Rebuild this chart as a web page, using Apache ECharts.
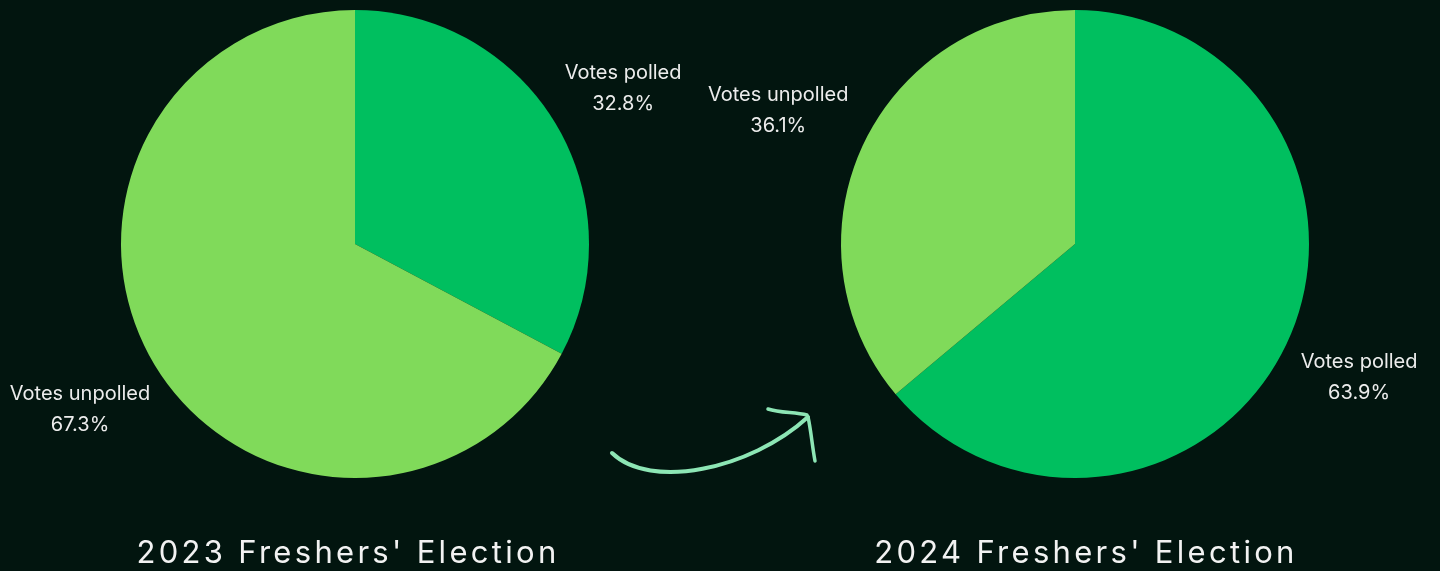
<!DOCTYPE html>
<html>
<head>
<meta charset="utf-8">
<script src="https://cdn.jsdelivr.net/npm/echarts@6/dist/echarts.min.js"></script>
<style>
  html, body { margin: 0; padding: 0; background: #02150f; overflow: hidden; }
  #wrap { position: relative; width: 1440px; height: 571px; }
  #chart { position: absolute; left: 0; top: 0; width: 1440px; height: 571px; }
  .ttl { position: absolute; top: 533px; font-family: Inter, sans-serif; font-size: 31px;
         letter-spacing: 3.3px; color: #f2f2f2; white-space: nowrap; transform: translateX(-50%); }
</style>
</head>
<body>
<div id="wrap">
  <div id="chart"></div>
  <div class="ttl" id="t1" style="left:348px"></div>
  <div class="ttl" id="t2" style="left:1086px"></div>
</div>
<script>
const categories = ['Votes polled', 'Votes unpolled'];
const values2023 = [32.8, 67.3];
const values2024 = [63.9, 36.1];
const titles = ["2023 Freshers' Election", "2024 Freshers' Election"];
const colors = ['#00bf5f', '#80da5a'];

document.getElementById('t1').textContent = titles[0];
document.getElementById('t2').textContent = titles[1];

function buildData(vals, lens) {
  return categories.map((name, i) => ({
    name: name,
    value: vals[i],
    itemStyle: { color: colors[i] },
    labelLine: { show: false, length: lens[i], length2: 0 }
  }));
}

function pieSeries(vals, center, lens) {
  return {
    type: 'pie',
    center: center,
    radius: 234,
    startAngle: 90,
    clockwise: true,
    avoidLabelOverlap: false,
    silent: true,
    data: buildData(vals, lens),
    label: {
      show: true,
      position: 'outside',
      formatter: '{b}\n{c}%',
      color: '#ececec',
      fontFamily: 'Inter',
      fontSize: 20,
      lineHeight: 31
    },
    labelLine: { show: false },
    labelLayout: function () {
      return { align: 'center', dy: 3 };
    }
  };
}

const chart = echarts.init(document.getElementById('chart'), null, { renderer: 'canvas' });
chart.setOption({
  backgroundColor: '#02150f',
  animation: false,
  series: [
    pieSeries(values2023, [355, 244], [73, 81]),
    pieSeries(values2024, [1075, 244], [74, 88])
  ],
  graphic: [
    {
      type: 'bezierCurve',
      shape: { x1: 612, y1: 453, cpx1: 650, cpy1: 490, cpx2: 750, cpy2: 470, x2: 808, y2: 417 },
      style: { stroke: '#8de6b5', lineWidth: 4, fill: null, lineCap: 'round' },
      silent: true
    },
    {
      type: 'bezierCurve',
      shape: { x1: 768, y1: 409, cpx1: 780, cpy1: 413, cpx2: 795, cpy2: 412, x2: 807, y2: 415 },
      style: { stroke: '#8de6b5', lineWidth: 3.5, fill: null, lineCap: 'round' },
      silent: true
    },
    {
      type: 'bezierCurve',
      shape: { x1: 808, y1: 417, cpx1: 811, cpy1: 430, cpx2: 812, cpy2: 445, x2: 815, y2: 461 },
      style: { stroke: '#8de6b5', lineWidth: 3.5, fill: null, lineCap: 'round' },
      silent: true
    }
  ]
});
</script>
</body>
</html>
